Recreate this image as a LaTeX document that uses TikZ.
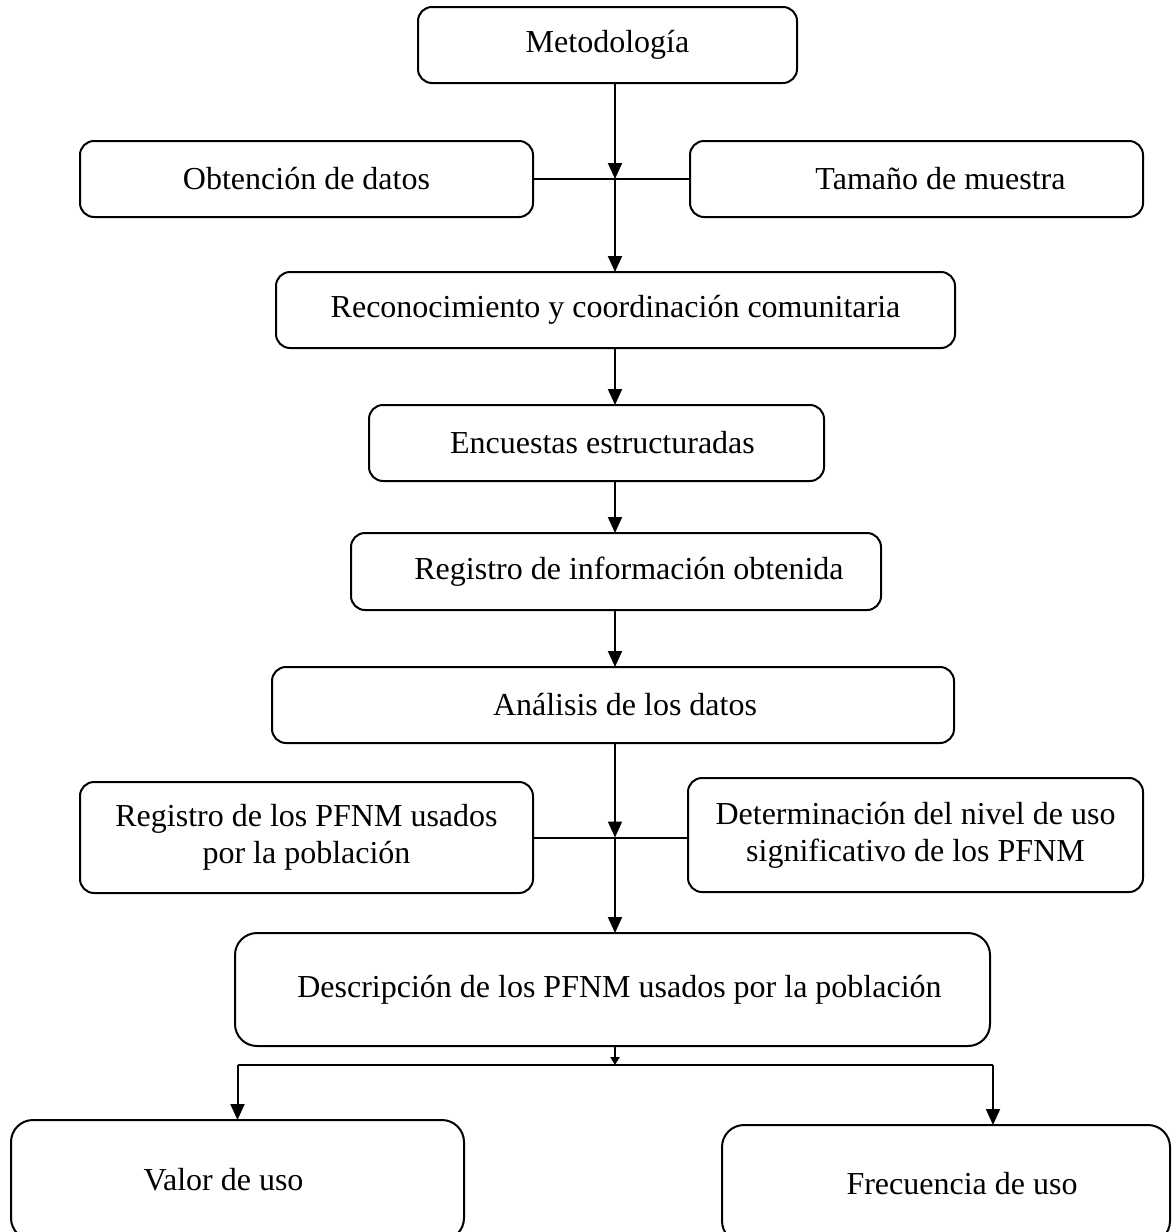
\documentclass[tikz,border=0pt]{standalone}
\usepackage{fontspec}
\setmainfont{Liberation Serif}
\usetikzlibrary{positioning,calc,arrows.meta}
\tikzset{
   every path/.style={>={Triangle[length=8pt,width=7pt]}},
   blk/.style={draw,rectangle,rounded corners=7pt,line width=1pt,inner sep=0pt,outer sep=0pt,
               align=center,font=\fontsize{16pt}{18.5pt}\selectfont},
   blkbig/.style={blk,rounded corners=11pt},
   arr/.style={->,line width=1pt},
   arrsm/.style={-{Triangle[length=4pt,width=4.5pt]},line width=1pt},
   lnk/.style={-,line width=1pt},
}

\begin{document}
\begin{tikzpicture}[x=0.5pt,y=-0.5pt]
      \clip (0,0) rectangle (1172,1232);
      \coordinate (sp) at (615,0);

      \node (met) [blk, minimum width=189.5pt, minimum height=38pt]
        at (607.5,45)
        {Metodología};

      \node (obt) [blk, minimum width=226.5pt, minimum height=38pt]
        at (306.5,179)
        {Obtención de datos};

      \node (tam) [blk, minimum width=226.5pt, minimum height=38pt]
        at (916.5,179)
        {\hspace*{24pt}Tamaño de muestra};

      \node (reco) [blk, minimum width=339.5pt, minimum height=38pt]
        at (615.5,310)
        {Reconocimiento y coordinación comunitaria};

      \node (enc) [blk, minimum width=227.5pt, minimum height=38pt]
        at (596.5,443)
        {\hspace*{6pt}Encuestas estructuradas};

      \node (reg) [blk, minimum width=265pt, minimum height=38.5pt]
        at (616,571.5)
        {\hspace*{13pt}Registro de información obtenida};

      \node (ana) [blk, minimum width=341pt, minimum height=38pt]
        at (613,705)
        {\hspace*{12pt}Análisis de los datos};

      \node (regp) [blk, minimum width=226.5pt, minimum height=55.5pt]
        at (306.5,837.5)
        {Registro de los PFNM usados\\ por la población};

      \node (det) [blk, minimum width=227.5pt, minimum height=57pt]
        at (915.5,835)
        {Determinación del nivel de uso\\ significativo de los PFNM};

      \node (desc) [blkbig, minimum width=377.5pt, minimum height=56.5pt]
        at (612.5,989.5)
        {\hspace*{7pt}Descripción de los PFNM usados por la población};

      \node (val) [blkbig, minimum width=226.5pt, minimum height=60pt]
        at (237.5,1180)
        {Valor de uso\hspace*{14pt}};

      \node (fre) [blkbig, minimum width=224pt, minimum height=59pt]
        at (946,1184)
        {\hspace*{16pt}Frecuencia de uso};

      % upper part
      \draw[arr] (met.south -| sp) -- (obt.east -| sp);
      \draw[lnk] (obt.east) -- (tam.west);
      \draw[arr] (obt.east -| sp) -- (reco.north -| sp);
      \draw[arr] (reco.south -| sp) -- (enc.north -| sp);
      \draw[arr] (enc.south -| sp) -- (reg.north -| sp);
      \draw[arr] (reg.south -| sp) -- (ana.north -| sp);

      % lower part
      \draw[arr] (ana.south -| sp) -- (regp.east -| sp);
      \draw[lnk] (regp.east) -- (regp.east -| det.west);
      \draw[arr] (regp.east -| sp) -- (desc.north -| sp);

      \coordinate (bl) at (237.5,1065);
      \coordinate (br) at (993,1065);
      \draw[arrsm] (desc.south -| sp) -- (bl -| sp);
      \draw[lnk] (bl) -- (br);
      \draw[arr] (bl) -- (val.north);
      \draw[arr] (br) -- (br |- fre.north);
\end{tikzpicture}
\end{document}
